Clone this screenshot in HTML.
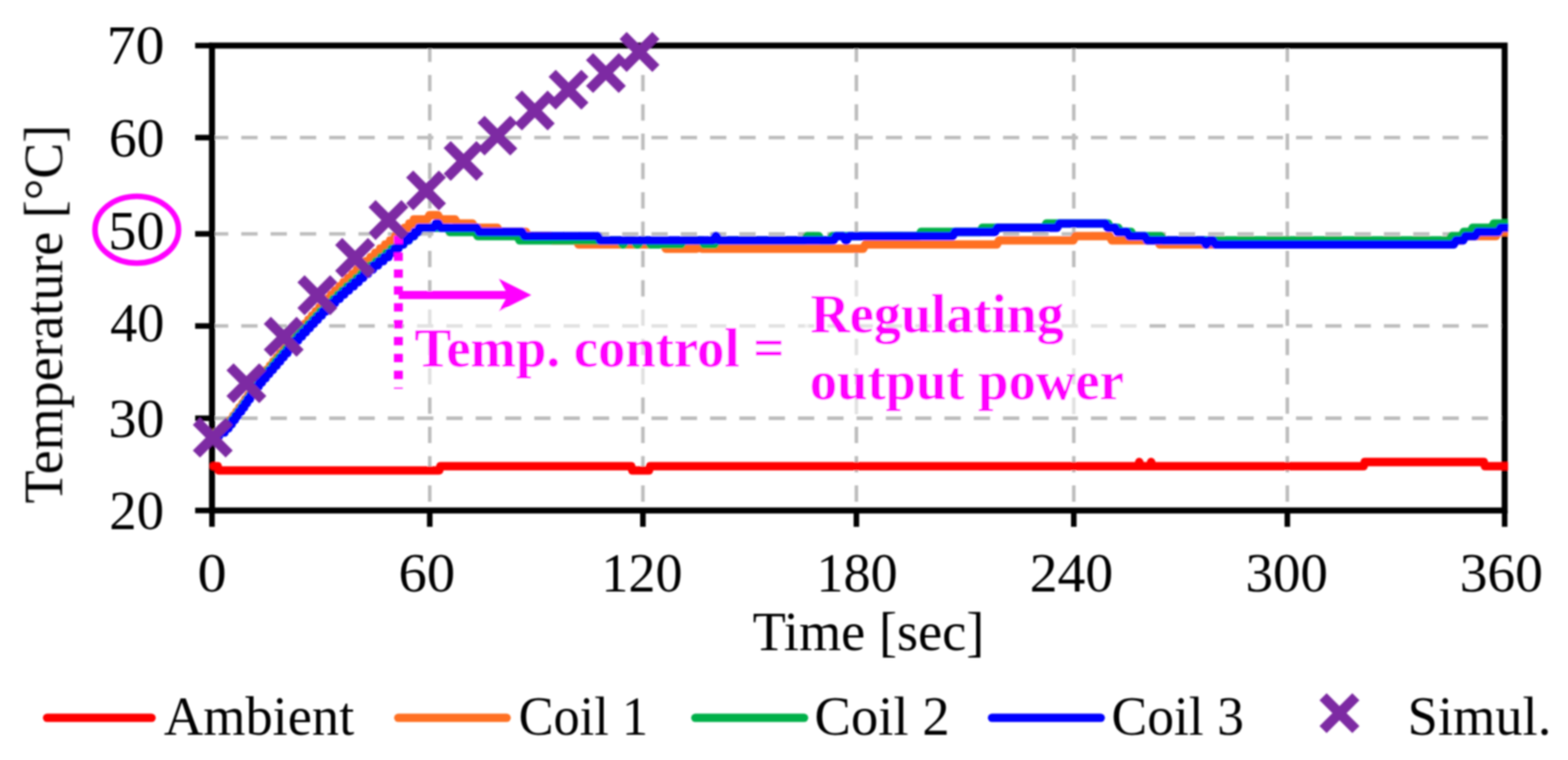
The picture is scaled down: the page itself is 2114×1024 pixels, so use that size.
<!DOCTYPE html>
<html lang="en"><head><meta charset="utf-8"><title>Coil temperature control</title>
<style>
html,body{margin:0;padding:0;background:#fff;}
body{width:2114px;height:1024px;overflow:hidden;}
svg{display:block;}
text{font-family:"Liberation Serif","DejaVu Serif",serif;fill:#000;}
.b{font-weight:bold;fill:#ff00ff;}
.ln{fill:none;stroke-width:11.3;stroke-linejoin:round;stroke-linecap:round;}
</style></head><body>
<svg width="2114" height="1024" viewBox="0 0 2114 1024">
<defs><clipPath id="pc"><rect x="275.8" y="0" width="1757.4" height="1024"/></clipPath>
<filter id="sf" x="-5%" y="-5%" width="110%" height="110%"><feGaussianBlur stdDeviation="0.80"/></filter></defs>
<rect width="2114" height="1024" fill="#fff"/>
<g id="all" filter="url(#sf)">
<g stroke="#bdbdbd" stroke-width="4.8" stroke-dasharray="22 17.5" fill="none">
<line x1="285.8" y1="185.4" x2="2028.6" y2="185.4"/>
<line x1="285.8" y1="315.1" x2="2028.6" y2="315.1"/>
<line x1="285.8" y1="439.2" x2="2028.6" y2="439.2"/>
<line x1="285.8" y1="563.5" x2="2028.6" y2="563.5"/>
<line x1="579.4" y1="61.4" x2="579.4" y2="687.8"/>
<line x1="866.8" y1="61.4" x2="866.8" y2="687.8"/>
<line x1="1154.6" y1="61.4" x2="1154.6" y2="687.8"/>
<line x1="1447.7" y1="61.4" x2="1447.7" y2="687.8"/>
<line x1="1735.6" y1="61.4" x2="1735.6" y2="687.8"/>
</g>
<g stroke="#000" stroke-width="8.1" fill="none">
<rect x="285.8" y="61.4" width="1742.8" height="626.4"/>
</g><g stroke="#000" stroke-width="7.5" fill="none">
<line x1="263.1" y1="61.4" x2="285.8" y2="61.4"/>
<line x1="263.1" y1="185.4" x2="285.8" y2="185.4"/>
<line x1="263.1" y1="315.1" x2="285.8" y2="315.1"/>
<line x1="263.1" y1="439.2" x2="285.8" y2="439.2"/>
<line x1="263.1" y1="563.5" x2="285.8" y2="563.5"/>
<line x1="263.1" y1="687.8" x2="285.8" y2="687.8"/>
<line x1="285.8" y1="687.8" x2="285.8" y2="709.8"/>
<line x1="579.4" y1="687.8" x2="579.4" y2="709.8"/>
<line x1="866.8" y1="687.8" x2="866.8" y2="709.8"/>
<line x1="1154.6" y1="687.8" x2="1154.6" y2="709.8"/>
<line x1="1447.7" y1="687.8" x2="1447.7" y2="709.8"/>
<line x1="1735.6" y1="687.8" x2="1735.6" y2="709.8"/>
<line x1="2028.6" y1="687.8" x2="2028.6" y2="709.8"/>
</g>
<rect x="560.0" y="415.0" width="530.0" height="104.0" fill="#fff" fill-opacity="0.55"/>
<rect x="1085.0" y="370.0" width="463.0" height="187.0" fill="#fff" fill-opacity="0.55"/>
<g clip-path="url(#pc)">
<polyline class="ln" stroke="#ff0000" points="288.1,628.1 293.5,628.1 293.5,628.1 295.0,633.8 592.2,633.8 593.8,628.1 851.0,628.1 852.5,633.8 875.0,633.8 876.5,628.1 1534.5,628.1 1534.5,628.1 1536.0,622.5 1536.0,622.5 1537.5,628.1 1550.5,628.1 1550.5,628.1 1552.0,622.5 1552.0,622.5 1553.5,628.1 1838.5,628.1 1840.0,622.5 2000.5,622.5 2002.0,628.1 2040.0,628.1"/>
<polyline class="ln" stroke="#ff7024" points="285.8,588.4 289.4,588.4 290.6,582.7 296.6,582.7 297.8,577.1 304.1,577.1 305.3,571.5 309.1,571.5 310.3,565.9 313.4,565.9 314.6,560.2 317.6,560.2 318.8,554.6 321.6,554.6 322.8,549.0 325.9,549.0 327.1,543.3 329.6,543.3 330.8,537.7 333.6,537.7 334.8,532.1 337.6,532.1 338.8,526.4 341.4,526.4 342.6,520.8 345.4,520.8 346.6,515.2 349.1,515.2 350.3,509.6 353.6,509.6 354.8,503.9 358.1,503.9 359.3,498.3 362.9,498.3 364.1,492.7 367.4,492.7 368.6,487.0 372.1,487.0 373.3,481.4 376.6,481.4 377.8,475.8 381.4,475.8 382.6,470.1 385.9,470.1 387.1,464.5 390.6,464.5 391.8,458.9 395.1,458.9 396.3,453.2 399.9,453.2 401.1,447.6 404.6,447.6 405.8,442.0 409.6,442.0 410.8,436.4 414.6,436.4 415.8,430.7 419.4,430.7 420.6,425.1 424.4,425.1 425.6,419.5 429.4,419.5 430.6,413.8 434.4,413.8 435.6,408.2 439.4,408.2 440.6,402.6 445.1,402.6 446.3,396.9 450.6,396.9 451.8,391.3 456.4,391.3 457.6,385.7 461.9,385.7 463.1,380.1 467.9,380.1 469.1,374.4 473.9,374.4 475.1,368.8 479.9,368.8 481.1,363.2 486.1,363.2 487.3,357.5 492.1,357.5 493.3,351.9 498.4,351.9 499.6,346.3 504.6,346.3 505.8,340.6 511.3,340.6 512.5,335.0 518.1,335.0 519.3,329.4 524.8,329.4 526.0,323.8 531.3,323.8 532.5,318.1 537.8,318.1 539.0,312.5 544.3,312.5 545.5,306.9 550.6,306.9 551.8,301.2 556.8,301.2 558.0,295.6 561.2,295.6 576.0,295.6 579.0,290.0 590.5,290.0 593.5,295.6 613.5,295.6 616.5,301.2 637.0,301.2 640.0,306.9 670.5,306.9 673.5,312.5 709.0,312.5 712.0,318.1 742.0,318.1 745.0,323.8 777.0,323.8 780.0,329.4 894.8,329.4 897.8,335.0 939.0,335.0 942.0,329.4 943.5,329.4 946.5,335.0 1163.8,335.0 1166.8,329.4 1344.0,329.4 1347.0,323.8 1447.0,323.8 1450.0,318.1 1496.0,318.1 1499.0,323.8 1560.5,323.8 1563.5,329.4 1958.0,329.4 1961.0,323.8 1971.0,323.8 1974.0,318.1 2017.0,318.1 2020.0,312.5 2040.0,312.5"/>
<polyline class="ln" stroke="#00b04a" points="285.8,588.4 290.6,588.4 291.8,582.7 300.1,582.7 301.3,577.1 306.9,577.1 308.1,571.5 310.9,571.5 312.1,565.9 315.1,565.9 316.3,560.2 319.4,560.2 320.6,554.6 323.6,554.6 324.8,549.0 327.6,549.0 328.8,543.3 331.6,543.3 332.8,537.7 335.6,537.7 336.8,532.1 339.4,532.1 340.6,526.4 343.4,526.4 344.6,520.8 347.4,520.8 348.6,515.2 351.4,515.2 352.6,509.6 356.1,509.6 357.3,503.9 360.6,503.9 361.8,498.3 365.4,498.3 366.6,492.7 369.9,492.7 371.1,487.0 374.6,487.0 375.8,481.4 379.4,481.4 380.6,475.8 384.4,475.8 385.6,470.1 389.1,470.1 390.3,464.5 393.9,464.5 395.1,458.9 398.9,458.9 400.1,453.2 403.6,453.2 404.8,447.6 409.1,447.6 410.3,442.0 414.4,442.0 415.6,436.4 419.9,436.4 421.1,430.7 425.1,430.7 426.3,425.1 430.4,425.1 431.6,419.5 435.9,419.5 437.1,413.8 441.6,413.8 442.8,408.2 447.9,408.2 449.1,402.6 454.1,402.6 455.3,396.9 460.1,396.9 461.3,391.3 466.4,391.3 467.6,385.7 472.9,385.7 474.1,380.1 479.4,380.1 480.6,374.4 485.6,374.4 486.8,368.8 492.1,368.8 493.3,363.2 498.6,363.2 499.8,357.5 505.4,357.5 506.6,351.9 512.3,351.9 513.5,346.3 519.3,346.3 520.5,340.6 526.3,340.6 527.5,335.0 534.8,335.0 536.0,329.4 543.8,329.4 545.0,323.8 551.1,323.8 552.3,318.1 558.1,318.1 559.3,312.5 563.8,312.5 565.0,306.9 568.0,306.9 603.5,306.9 606.5,312.5 641.0,312.5 644.0,318.1 697.5,318.1 700.5,323.8 836.0,323.8 839.0,329.4 841.0,329.4 844.0,323.8 854.8,323.8 857.8,329.4 861.0,329.4 864.0,323.8 873.5,323.8 876.5,329.4 918.5,329.4 921.5,323.8 946.0,323.8 949.0,329.4 963.5,329.4 966.5,323.8 1085.0,323.8 1088.0,318.1 1103.8,318.1 1106.8,323.8 1118.8,323.8 1121.8,318.1 1238.8,318.1 1241.8,312.5 1321.5,312.5 1324.5,306.9 1407.8,306.9 1410.8,301.2 1494.0,301.2 1497.0,306.9 1507.5,306.9 1510.5,312.5 1525.0,312.5 1528.0,318.1 1565.5,318.1 1568.5,323.8 1954.0,323.8 1957.0,318.1 1970.5,318.1 1973.5,312.5 1982.5,312.5 1985.5,306.9 2011.0,306.9 2014.0,301.2 2040.0,301.2"/>
<polyline class="ln" stroke="#0000ff" points="285.8,588.4 294.9,588.4 296.1,582.7 302.6,582.7 303.8,577.1 308.1,577.1 309.3,571.5 312.4,571.5 313.6,565.9 316.6,565.9 317.8,560.2 320.9,560.2 322.1,554.6 325.1,554.6 326.3,549.0 329.1,549.0 330.3,543.3 332.9,543.3 334.1,537.7 336.9,537.7 338.1,532.1 340.9,532.1 342.1,526.4 344.9,526.4 346.1,520.8 348.6,520.8 349.8,515.2 353.1,515.2 354.3,509.6 358.1,509.6 359.3,503.9 362.9,503.9 364.1,498.3 367.9,498.3 369.1,492.7 372.9,492.7 374.1,487.0 377.6,487.0 378.8,481.4 382.4,481.4 383.6,475.8 387.4,475.8 388.6,470.1 392.1,470.1 393.3,464.5 396.9,464.5 398.1,458.9 401.9,458.9 403.1,453.2 407.1,453.2 408.3,447.6 412.4,447.6 413.6,442.0 417.6,442.0 418.8,436.4 423.1,436.4 424.3,430.7 428.4,430.7 429.6,425.1 433.9,425.1 435.1,419.5 439.4,419.5 440.6,413.8 445.4,413.8 446.6,408.2 451.6,408.2 452.8,402.6 457.9,402.6 459.1,396.9 464.1,396.9 465.3,391.3 470.4,391.3 471.6,385.7 476.9,385.7 478.1,380.1 483.4,380.1 484.6,374.4 489.6,374.4 490.8,368.8 496.1,368.8 497.3,363.2 502.6,363.2 503.8,357.5 509.6,357.5 510.8,351.9 516.8,351.9 518.0,346.3 523.8,346.3 525.0,340.6 530.6,340.6 531.8,335.0 537.1,335.0 538.3,329.4 543.8,329.4 545.0,323.8 551.1,323.8 552.3,318.1 558.1,318.1 559.3,312.5 563.8,312.5 565.0,306.9 568.0,306.9 584.5,306.9 587.5,301.2 591.0,301.2 594.0,306.9 643.0,306.9 646.0,312.5 704.0,312.5 707.0,318.1 806.0,318.1 809.0,323.8 961.5,323.8 964.5,318.1 966.0,318.1 969.0,323.8 1123.8,323.8 1126.8,318.1 1137.0,318.1 1140.0,323.8 1141.5,323.8 1144.5,318.1 1284.4,318.1 1287.4,312.5 1341.5,312.5 1344.5,306.9 1425.2,306.9 1428.2,301.2 1490.5,301.2 1493.5,306.9 1503.5,306.9 1506.5,312.5 1519.5,312.5 1522.5,318.1 1543.5,318.1 1546.5,323.8 1622.5,323.8 1625.5,329.4 1627.0,329.4 1630.0,323.8 1635.5,323.8 1638.5,329.4 1960.0,329.4 1963.0,323.8 1972.6,323.8 1975.6,318.1 1989.0,318.1 1992.0,312.5 2020.0,312.5 2023.0,306.9 2040.0,306.9"/>
</g>
<g fill="none" stroke="#ff00ff">
<line x1="537.1" y1="317.5" x2="537.1" y2="523.8" stroke-width="12.0" stroke-dasharray="11.2 11.55"/>
<line x1="537.5" y1="397.5" x2="690.0" y2="397.5" stroke-width="11.2"/>
<ellipse cx="184.4" cy="309.4" rx="56.3" ry="45.0" stroke-width="7.5"/>
</g>
<path d="M716.3 397.5L672.5 375.5L685 397.5L672.5 419.5Z" fill="#ff00ff"/>
<path d="M264.8 567.6L309.0 611.8M264.8 611.8L309.0 567.6" stroke="#7d2ca3" stroke-width="13.6" fill="none"/>
<path d="M310.1 494.2L354.3 538.4M310.1 538.4L354.3 494.2" stroke="#7d2ca3" stroke-width="13.6" fill="none"/>
<path d="M360.4 431.6L404.6 475.9M360.4 475.9L404.6 431.6" stroke="#7d2ca3" stroke-width="13.6" fill="none"/>
<path d="M405.8 375.6L450.0 419.9M405.8 419.9L450.0 375.6" stroke="#7d2ca3" stroke-width="13.6" fill="none"/>
<path d="M456.6 325.4L500.9 369.6M456.6 369.6L500.9 325.4" stroke="#7d2ca3" stroke-width="13.6" fill="none"/>
<path d="M501.6 274.4L545.9 318.6M501.6 318.6L545.9 274.4" stroke="#7d2ca3" stroke-width="13.6" fill="none"/>
<path d="M552.3 234.5L596.5 278.7M552.3 278.7L596.5 234.5" stroke="#7d2ca3" stroke-width="13.6" fill="none"/>
<path d="M602.9 194.7L647.1 238.9M602.9 238.9L647.1 194.7" stroke="#7d2ca3" stroke-width="13.6" fill="none"/>
<path d="M648.5 160.7L692.7 204.8M648.5 204.8L692.7 160.7" stroke="#7d2ca3" stroke-width="13.6" fill="none"/>
<path d="M698.9 126.8L743.1 171.0M698.9 171.0L743.1 126.8" stroke="#7d2ca3" stroke-width="13.6" fill="none"/>
<path d="M744.4 98.8L788.6 143.0M744.4 143.0L788.6 98.8" stroke="#7d2ca3" stroke-width="13.6" fill="none"/>
<path d="M794.8 76.3L839.0 120.5M794.8 120.5L839.0 76.3" stroke="#7d2ca3" stroke-width="13.6" fill="none"/>
<path d="M840.1 47.9L884.3 92.1M840.1 92.1L884.3 47.9" stroke="#7d2ca3" stroke-width="13.6" fill="none"/>
<text x="143.74" y="85.70" font-size="74.0" text-anchor="start" textLength="78.1" lengthAdjust="spacingAndGlyphs">70</text>
<text x="146.67" y="211.40" font-size="74.0" text-anchor="start" textLength="75.1" lengthAdjust="spacingAndGlyphs">60</text>
<text x="146.11" y="335.90" font-size="74.0" text-anchor="start" textLength="75.7" lengthAdjust="spacingAndGlyphs">50</text>
<text x="148.44" y="459.60" font-size="74.0" text-anchor="start" textLength="73.2" lengthAdjust="spacingAndGlyphs">40</text>
<text x="146.28" y="589.10" font-size="74.0" text-anchor="start" textLength="75.5" lengthAdjust="spacingAndGlyphs">30</text>
<text x="147.25" y="713.00" font-size="74.0" text-anchor="start" textLength="73.9" lengthAdjust="spacingAndGlyphs">20</text>
<text x="266.26" y="796.90" font-size="74.0" text-anchor="start" textLength="39.3" lengthAdjust="spacingAndGlyphs">0</text>
<text x="537.21" y="796.90" font-size="74.0" text-anchor="start" textLength="76.4" lengthAdjust="spacingAndGlyphs">60</text>
<text x="810.83" y="796.90" font-size="74.0" text-anchor="start" textLength="109.4" lengthAdjust="spacingAndGlyphs">120</text>
<text x="1100.83" y="796.90" font-size="74.0" text-anchor="start" textLength="109.4" lengthAdjust="spacingAndGlyphs">180</text>
<text x="1388.20" y="796.90" font-size="74.0" text-anchor="start" textLength="112.7" lengthAdjust="spacingAndGlyphs">240</text>
<text x="1679.19" y="796.90" font-size="74.0" text-anchor="start" textLength="111.1" lengthAdjust="spacingAndGlyphs">300</text>
<text x="1967.90" y="796.90" font-size="74.0" text-anchor="start" textLength="112.4" lengthAdjust="spacingAndGlyphs">360</text>
<text x="1014.68" y="876.30" font-size="74.0" text-anchor="start" textLength="312.5" lengthAdjust="spacingAndGlyphs">Time [sec]</text>
<text x="84.00" y="678.31" font-size="75.0" text-anchor="start" textLength="510.1" lengthAdjust="spacingAndGlyphs" transform="rotate(-90 84.00 678.31)">Temperature [°C]</text>
<text x="221.02" y="989.50" font-size="74.0" text-anchor="start" textLength="256.5" lengthAdjust="spacingAndGlyphs">Ambient</text>
<text x="699.31" y="989.50" font-size="74.0" text-anchor="start" textLength="174.4" lengthAdjust="spacingAndGlyphs">Coil 1</text>
<text x="1097.98" y="989.50" font-size="74.0" text-anchor="start" textLength="182.3" lengthAdjust="spacingAndGlyphs">Coil 2</text>
<text x="1498.54" y="989.50" font-size="74.0" text-anchor="start" textLength="178.5" lengthAdjust="spacingAndGlyphs">Coil 3</text>
<text x="1897.83" y="989.50" font-size="74.0" text-anchor="start" textLength="193.7" lengthAdjust="spacingAndGlyphs">Simul.</text>
<text x="559.32" y="493.50" font-size="74.0" text-anchor="start" class="b" textLength="498.2" lengthAdjust="spacingAndGlyphs">Temp. control =</text>
<text x="1092.76" y="447.50" font-size="74.0" text-anchor="start" class="b" textLength="341.5" lengthAdjust="spacingAndGlyphs">Regulating</text>
<text x="1091.70" y="537.50" font-size="74.0" text-anchor="start" class="b" textLength="423.4" lengthAdjust="spacingAndGlyphs">output power</text>
<g class="ln">
<line x1="63.5" y1="967.2" x2="204.3" y2="967.2" stroke="#ff0000"/>
<line x1="537.0" y1="967.2" x2="683.0" y2="967.2" stroke="#ff7024"/>
<line x1="937.5" y1="967.2" x2="1084.0" y2="967.2" stroke="#00b04a"/>
<line x1="1337.5" y1="967.2" x2="1484.0" y2="967.2" stroke="#0000ff"/>
</g>
<path d="M1783.8 938.8L1828.0 983.0M1783.8 983.0L1828.0 938.8" stroke="#7d2ca3" stroke-width="13.6" fill="none"/>
</g>
</svg></body></html>
